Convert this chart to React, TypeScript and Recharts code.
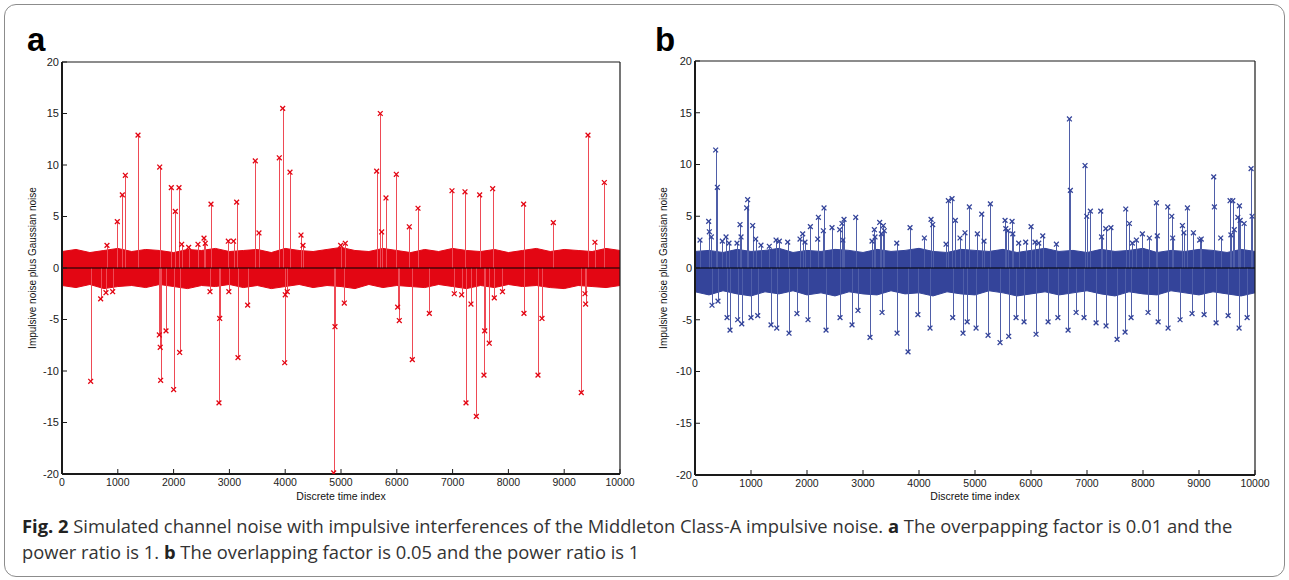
import { ComposedChart, XAxis, YAxis, Area, Bar, Scatter, ReferenceLine } from 'recharts';

const timeTicks = [0, 1000, 2000, 3000, 4000, 5000, 6000, 7000, 8000, 9000, 10000];
const levelTicks = [-20, -15, -10, -5, 0, 5, 10, 15, 20];

// envelope of the dense Gaussian part, sampled every 250 steps
const bandTimes = [0, 250, 500, 750, 1000, 1250, 1500, 1750, 2000, 2250, 2500, 2750, 3000, 3250, 3500, 3750, 4000, 4250, 4500, 4750, 5000, 5250, 5500, 5750, 6000, 6250, 6500, 6750, 7000, 7250, 7500, 7750, 8000, 8250, 8500, 8750, 9000, 9250, 9500, 9750, 10000];
const bandUpperA = [1.6, 1.8, 1.5, 1.7, 1.9, 1.6, 1.8, 1.7, 1.5, 1.8, 1.7, 1.9, 1.6, 1.7, 1.8, 1.5, 1.9, 1.7, 1.6, 1.8, 2.0, 1.7, 1.6, 1.9, 1.7, 1.5, 1.8, 1.6, 1.9, 1.7, 1.6, 1.8, 1.5, 1.7, 1.9, 1.6, 1.8, 1.7, 1.6, 1.9, 1.7];
const bandLowerA = [-1.7, -1.9, -1.6, -2.0, -1.8, -1.7, -1.9, -1.6, -1.8, -2.0, -1.7, -1.8, -1.6, -1.9, -1.7, -2.0, -1.8, -1.6, -1.9, -1.7, -1.8, -2.0, -1.6, -1.9, -1.7, -1.8, -1.9, -1.6, -1.8, -2.0, -1.7, -1.9, -1.6, -1.8, -1.7, -1.9, -2.0, -1.7, -1.8, -1.9, -1.7];
const bandUpperB = [1.6, 1.7, 1.5, 1.8, 1.6, 1.7, 1.9, 1.5, 1.7, 1.6, 1.8, 1.7, 1.5, 1.8, 1.6, 1.7, 1.9, 1.6, 1.5, 1.8, 1.7, 1.6, 1.8, 1.5, 1.7, 1.9, 1.6, 1.7, 1.5, 1.8, 1.6, 1.7, 1.9, 1.5, 1.7, 1.6, 1.8, 1.7, 1.5, 1.8, 1.6];
const bandLowerB = [-2.3, -2.6, -2.2, -2.5, -2.7, -2.3, -2.5, -2.2, -2.6, -2.4, -2.7, -2.3, -2.5, -2.6, -2.2, -2.5, -2.4, -2.7, -2.3, -2.5, -2.6, -2.2, -2.4, -2.7, -2.5, -2.3, -2.6, -2.4, -2.2, -2.5, -2.7, -2.3, -2.5, -2.6, -2.2, -2.4, -2.6, -2.3, -2.5, -2.7, -2.4];

// impulses: [discrete time index, amplitude]
const impulsesA: [number, number][] = [
  [514, -11.0], [693, -3.0], [788, -2.4], [806, 2.2], [908, -2.3], [991, 4.5], [1081, 7.1], [1135, 9.0],
  [1362, 12.9], [1744, -6.5], [1751, 9.8], [1760, -7.7], [1768, -10.9], [1864, -6.1], [1959, 7.8], [2001, -11.8],
  [2031, 5.5], [2097, 7.8], [2109, -8.2], [2145, 2.3], [2270, 2.0], [2437, 2.3], [2545, 2.9], [2568, 2.4],
  [2652, -2.3], [2670, 6.2], [2813, -13.1], [2826, -4.9], [2980, 2.6], [2990, -2.3], [3074, 2.6], [3130, 6.4],
  [3154, -8.7], [3327, -3.6], [3464, 10.4], [3530, 3.4], [3894, 10.7], [3955, 15.5], [3991, -9.2], [4001, -2.6],
  [4037, -2.3], [4086, 9.3], [4283, 3.2], [4319, 2.2], [4869, -19.9], [4892, -5.7], [4994, 2.2], [5059, -3.4],
  [5077, 2.4], [5639, 9.4], [5704, 15.0], [5729, 3.5], [5806, 6.8], [5991, 9.1], [6015, -3.8], [6045, -5.1],
  [6224, 4.0], [6278, -8.9], [6380, 5.8], [6583, -4.4], [6989, 7.5], [7030, -2.5], [7162, -2.6], [7222, 7.4],
  [7240, -13.1], [7329, -3.5], [7425, -14.4], [7485, 7.1], [7562, -10.4], [7575, -6.1], [7657, -7.3], [7718, 7.7],
  [7747, -2.9], [7894, -2.3], [8273, 6.2], [8279, -4.4], [8530, -10.4], [8602, -4.9], [8805, 4.4], [9306, -12.1],
  [9372, -2.5], [9384, -3.5], [9426, 12.9], [9551, 2.5], [9719, 8.3],
];

const impulsesB: [number, number][] = [
  [89, 2.7], [244, 4.5], [256, 3.5], [292, 3.0], [304, -3.6], [369, 11.4], [399, 7.8], [410, -3.2],
  [488, 2.6], [554, 3.0], [572, -4.8], [607, 2.4], [625, -6.0], [750, 2.4], [762, -5.0], [804, 4.2],
  [822, 3.0], [835, -5.4], [923, 5.8], [940, 6.6], [1000, -4.8], [1030, 4.1], [1084, 2.8], [1120, -4.6],
  [1178, 2.2], [1327, 2.1], [1357, -5.5], [1447, 2.7], [1460, -5.8], [1506, 2.6], [1655, 2.5], [1679, -6.3],
  [1820, -4.4], [1875, 2.8], [1923, 3.3], [1964, 2.5], [2018, -5.0], [2060, 4.0], [2191, 2.8], [2203, 4.9],
  [2292, 3.6], [2304, 5.8], [2340, -6.0], [2447, 3.9], [2584, 3.7], [2590, -4.8], [2625, 4.3], [2640, 2.7],
  [2661, 4.7], [2804, -5.5], [2870, 4.9], [2910, -4.1], [3125, -6.7], [3161, 2.6], [3203, 3.7], [3215, 3.0],
  [3298, 4.4], [3328, 3.3], [3340, -4.3], [3363, 4.1], [3380, 3.6], [3603, 2.4], [3608, -6.3], [3804, -8.1],
  [3840, 3.9], [3980, -4.5], [4096, 2.9], [4197, -5.8], [4215, 4.7], [4245, 4.2], [4483, 2.3], [4524, 6.5],
  [4590, 6.7], [4602, -4.8], [4649, 4.6], [4732, 2.9], [4786, -6.3], [4821, 3.4], [4860, -5.2], [4899, 5.9],
  [5019, -5.8], [5042, 3.3], [5120, 5.2], [5161, 2.6], [5233, -6.5], [5274, 6.2], [5447, -7.2], [5537, 4.6],
  [5550, 3.8], [5590, 3.6], [5602, -6.6], [5662, 4.5], [5675, 3.3], [5733, -4.8], [5780, 2.4], [5876, -5.2],
  [5905, 2.5], [6001, 4.0], [6072, 2.5], [6090, -6.4], [6138, 2.4], [6210, 3.1], [6305, -5.2], [6453, 2.3],
  [6480, -4.8], [6662, -6.0], [6686, 14.4], [6703, 7.5], [6805, -4.3], [6947, -4.8], [6965, 9.9], [6995, 5.0],
  [7060, 5.5], [7162, -5.3], [7245, 5.5], [7260, 3.0], [7335, 3.8], [7340, -5.6], [7427, 3.9], [7537, -6.9],
  [7680, -6.2], [7692, 5.7], [7757, 4.3], [7787, -4.8], [7810, 2.4], [7882, 2.7], [7989, 3.3], [8090, -4.3],
  [8114, 2.9], [8240, 6.3], [8255, 3.1], [8270, -5.2], [8442, 5.9], [8448, -5.8], [8514, 5.0], [8530, 2.9],
  [8662, -5.0], [8704, 4.1], [8730, 3.4], [8793, 5.8], [8876, -4.4], [8900, 3.4], [9012, 2.7], [9040, 2.8],
  [9091, -4.5], [9263, 8.8], [9275, 5.9], [9305, -5.3], [9388, 2.9], [9520, -4.6], [9555, 6.5], [9570, 3.2],
  [9603, 6.5], [9630, 3.7], [9693, 4.9], [9716, -5.8], [9722, 6.0], [9735, 4.6], [9806, 4.3], [9859, -4.8],
  [9930, 9.6], [9948, 5.0],
];

const RED = '#e30613';
const BLUE = '#34449a';
const AXIS = '#1a1a1a';
const TICK_FONT = "'Liberation Sans', Arial, sans-serif";

const crossShape = (color: string) => (props: any) => {
  const { cx, cy } = props;
  if (cx == null || cy == null) return null;
  const s = 2.4;
  return (
    <path
      d={`M${cx - s},${cy - s}L${cx + s},${cy + s}M${cx - s},${cy + s}L${cx + s},${cy - s}`}
      stroke={color}
      strokeWidth={1.3}
      fill="none"
    />
  );
};

// draw each bar as a 1px stem from zero to the impulse value
const stemShape = (color: string) => (props: any) => {
  const { x, y, width, height } = props;
  if (x == null || y == null) return null;
  const cx = Math.round(x + (width || 0) / 2) + 0.5;
  return <line x1={cx} x2={cx} y1={y} y2={y + (height || 0)} stroke={color} strokeWidth={1} />;
};

interface PanelProps {
  left: number;
  width: number;
  margin: { top: number; right: number; bottom: number; left: number };
  color: string;
  stemColor: string;
  impulses: [number, number][];
  upper: number[];
  lower: number[];
}

function NoisePanel({ left, width, margin, color, stemColor, impulses, upper, lower }: PanelProps) {
  const rows = impulses.map(([t, v]) => ({ t, v }));
  const band = bandTimes.map((t, i) => ({ t, band: [lower[i], upper[i]] }));

  return (
    <div style={{ position: 'absolute', left, top: 0 }}>
      <ComposedChart width={width} height={520} data={rows} margin={margin}>
        <XAxis
          dataKey="t"
          type="number"
          domain={[0, 10000]}
          ticks={timeTicks}
          interval={0}
          height={30}
          tickSize={-5}
          tickMargin={10}
          axisLine={{ stroke: AXIS, strokeWidth: 2 }}
          tickLine={{ stroke: AXIS }}
          tick={{ fontSize: 10.5, fill: '#222', fontFamily: TICK_FONT }}
          allowDataOverflow
        />
        <XAxis
          xAxisId="top"
          orientation="top"
          type="number"
          domain={[0, 10000]}
          ticks={timeTicks}
          interval={0}
          height={10}
          tickSize={-5}
          axisLine={{ stroke: AXIS, strokeWidth: 1.2 }}
          tickLine={{ stroke: AXIS }}
          tick={false}
        />
        <YAxis
          dataKey="v"
          type="number"
          domain={[-20, 20]}
          ticks={levelTicks}
          interval={0}
          width={40}
          tickSize={-5}
          tickMargin={8}
          axisLine={{ stroke: AXIS, strokeWidth: 2 }}
          tickLine={{ stroke: AXIS }}
          tick={{ fontSize: 11, fill: '#222', fontFamily: TICK_FONT }}
          allowDataOverflow
        />
        <YAxis
          yAxisId="right"
          orientation="right"
          type="number"
          domain={[-20, 20]}
          ticks={levelTicks}
          interval={0}
          width={10}
          tickSize={-5}
          axisLine={{ stroke: AXIS, strokeWidth: 1.2 }}
          tickLine={{ stroke: AXIS }}
          tick={false}
        />
        <Area
          data={band}
          dataKey="band"
          type="linear"
          stroke={color}
          strokeWidth={1}
          fill={color}
          fillOpacity={1}
          dot={false}
          activeDot={false}
          isAnimationActive={false}
        />
        <Bar dataKey="v" barSize={1} fill={stemColor} shape={stemShape(stemColor)} isAnimationActive={false} />
        <Scatter data={rows} dataKey="v" shape={crossShape(color)} isAnimationActive={false} />
        <ReferenceLine y={0} stroke="#000" strokeWidth={1.2} />
      </ComposedChart>
    </div>
  );
}

const yLabelStyle = (cx: number): React.CSSProperties => ({
  position: 'absolute',
  left: cx - 120,
  top: 262,
  width: 240,
  textAlign: 'center',
  transform: 'rotate(-90deg)',
  fontFamily: TICK_FONT,
  fontSize: 10,
  color: '#111',
  lineHeight: '12px',
});

const xLabelStyle = (cx: number): React.CSSProperties => ({
  position: 'absolute',
  left: cx - 100,
  top: 490,
  width: 200,
  textAlign: 'center',
  fontFamily: TICK_FONT,
  fontSize: 10.5,
  color: '#111',
  lineHeight: '12px',
});

const panelLetter = (x: number): React.CSSProperties => ({
  position: 'absolute',
  left: x,
  top: 22,
  fontFamily: TICK_FONT,
  fontWeight: 700,
  fontSize: 33,
  lineHeight: '36px',
  color: '#000',
});

export default function App() {
  return (
    <div style={{ position: 'absolute', left: 0, top: 0, width: 1289, height: 580, background: '#fff', overflow: 'hidden' }}>
      <div
        style={{
          position: 'absolute',
          left: 4,
          top: 4,
          width: 1281,
          height: 573,
          boxSizing: 'border-box',
          border: '1.5px solid #8c8c8c',
          borderRadius: 12,
        }}
      />
      <div style={panelLetter(27)}>a</div>
      <div style={panelLetter(655)}>b</div>

      <NoisePanel
        left={0}
        width={640}
        margin={{ top: 52, right: 10, bottom: 16, left: 22 }}
        color={RED}
        stemColor="#ee4a55"
        impulses={impulsesA}
        upper={bandUpperA}
        lower={bandLowerA}
      />
      <NoisePanel
        left={640}
        width={645}
        margin={{ top: 51, right: 20, bottom: 15, left: 15 }}
        color={BLUE}
        stemColor="#4f5ea8"
        impulses={impulsesB}
        upper={bandUpperB}
        lower={bandLowerB}
      />

      <div style={yLabelStyle(33)}>Impulsive noise plus Gaussian noise</div>
      <div style={yLabelStyle(664)}>Impulsive noise plus Gaussian noise</div>
      <div style={xLabelStyle(341)}>Discrete time index</div>
      <div style={xLabelStyle(975)}>Discrete time index</div>

      <div
        style={{
          position: 'absolute',
          left: 22,
          top: 513,
          width: 1260,
          fontFamily: "'Open Sans', 'Noto Sans', sans-serif",
          fontSize: 18.35,
          lineHeight: '26px',
          color: '#333',
          whiteSpace: 'nowrap',
        }}
      >
        <div>
          <b style={{ color: '#222' }}>Fig. 2</b> Simulated channel noise with impulsive interferences of the Middleton Class-A impulsive noise.{' '}
          <b style={{ color: '#222' }}>a</b> The overpapping factor is 0.01 and the
        </div>
        <div>
          power ratio is 1. <b style={{ color: '#222' }}>b</b> The overlapping factor is 0.05 and the power ratio is 1
        </div>
      </div>
    </div>
  );
}
